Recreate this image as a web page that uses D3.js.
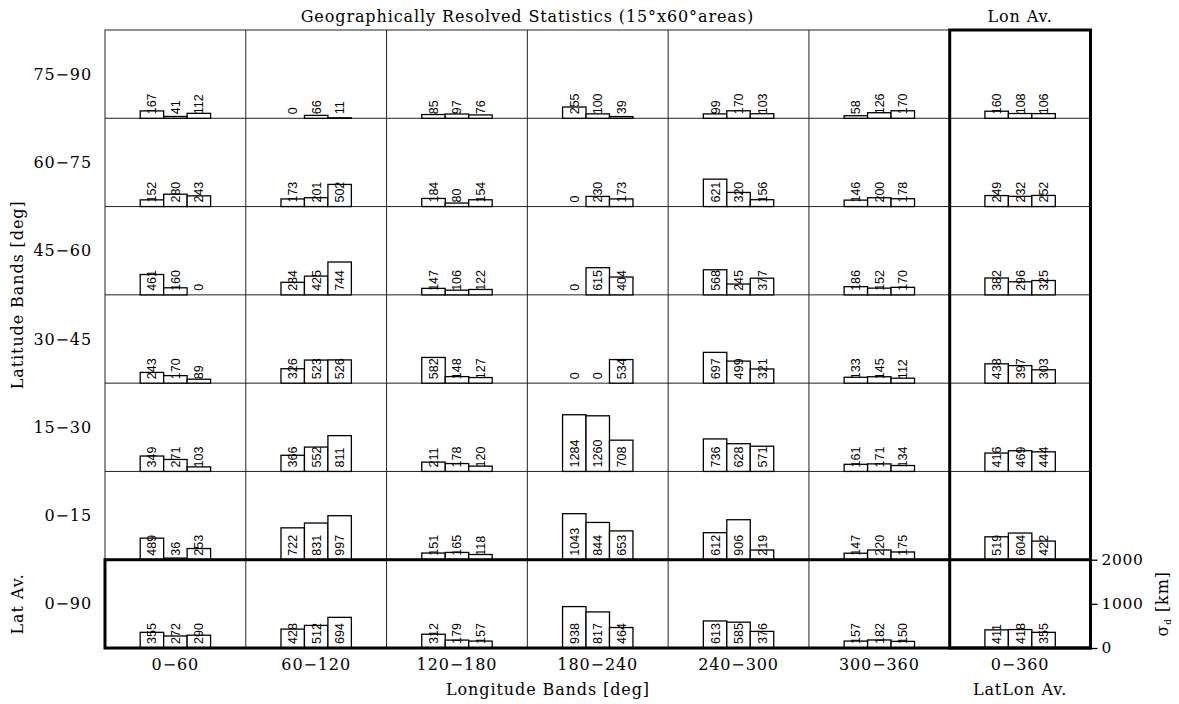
<!DOCTYPE html>
<html><head><meta charset="utf-8">
<script src="https://cdn.jsdelivr.net/npm/d3@7"></script>
<style>html,body{margin:0;padding:0;background:#fff;}</style>
</head><body>
<svg id="chart" width="1179" height="704"></svg>
<script>
// Longitude band labels (columns) and latitude band labels (rows)
const lonBands = ["0\u221260","60\u2212120","120\u2212180","180\u2212240","240\u2212300","300\u2212360","0\u2212360"];
const latBands = ["75\u221290","60\u221275","45\u221260","30\u221245","15\u221230","0\u221215","0\u221290"];
const yTicks = [0, 1000, 2000];

// sigma_d [km] values, three bars per cell, one array per latitude row
const row75_90 = [[167,41,112],[0,66,11],[85,97,76],[255,100,39],[99,170,103],[58,126,170],[160,108,106]];
const row60_75 = [[152,280,243],[173,201,502],[184,80,154],[0,230,173],[621,320,156],[146,200,178],[249,232,252]];
const row45_60 = [[461,160,0],[284,425,744],[147,106,122],[0,615,404],[568,245,377],[186,152,170],[382,296,325]];
const row30_45 = [[243,170,89],[326,523,526],[582,148,127],[0,0,534],[697,499,321],[133,145,112],[438,397,303]];
const row15_30 = [[349,271,103],[366,552,811],[211,178,120],[1284,1260,708],[736,628,571],[161,171,134],[416,469,444]];
const row0_15  = [[489,36,253],[722,831,997],[151,165,118],[1043,844,653],[612,906,219],[147,220,175],[519,604,422]];
const row0_90  = [[355,272,290],[428,512,694],[312,179,157],[938,817,464],[613,585,376],[157,182,150],[411,418,355]];
const rows = [row75_90,row60_75,row45_60,row30_45,row15_30,row0_15,row0_90];

const svg = d3.select("#chart");
const L = 105, R = 1090.5, T = 30, B = 648;
const serif = "'DejaVu Serif', 'Liberation Serif', serif";
const sans = "'Liberation Sans', Arial, sans-serif";
const FS = 16, LS = 0.9;

const x = d3.scaleBand().domain(lonBands).range([L, R]).padding(0);
const y = d3.scaleBand().domain(latBands).range([T, B]).padding(0);
const cw = x.bandwidth(), ch = y.bandwidth();
const xi = d3.scaleBand().domain([0,1,2]).range([cw*0.25, cw*0.75]).padding(0);
const v = d3.scaleLinear().domain([0, 2000]).range([ch, 0]);

function label(sel) {
  return sel.attr("font-family", serif).attr("font-size", FS).attr("letter-spacing", LS).attr("fill", "#000");
}

// thin grid
const grid = svg.append("g").attr("stroke", "#222").attr("stroke-width", 1).attr("fill", "none");
grid.append("rect").attr("x", L).attr("y", T).attr("width", R-L).attr("height", B-T);
lonBands.slice(1).forEach(d => grid.append("line").attr("x1", x(d)).attr("x2", x(d)).attr("y1", T).attr("y2", B));
latBands.slice(1).forEach(d => grid.append("line").attr("y1", y(d)).attr("y2", y(d)).attr("x1", L).attr("x2", R));

// bars
rows.forEach((row, ri) => {
  const lat = latBands[ri];
  row.forEach((vals, ci) => {
    const lon = lonBands[ci];
    const g = svg.append("g").attr("transform", `translate(${x(lon)},${y(lat)})`);
    g.selectAll("rect").data(vals).join("rect")
      .attr("x", (d,i) => xi(i)).attr("width", xi.bandwidth())
      .attr("y", d => v(d)).attr("height", d => ch - v(d))
      .attr("fill", "#fff").attr("stroke", "#000").attr("stroke-width", 1.3);
    g.selectAll("text").data(vals).join("text")
      .attr("transform", (d,i) => `translate(${xi(i)+xi.bandwidth()/2},${ch-4}) rotate(-90)`)
      .attr("dy", "0.36em")
      .attr("font-family", sans).attr("font-size", 12.5)
      .text(d => d);
  });
});

// thick borders
const thick = svg.append("g").attr("stroke", "#000").attr("stroke-width", 3).attr("fill", "none");
const lastLat = latBands[6], lastLon = lonBands[6];
thick.append("rect").attr("x", x(lastLon)).attr("y", T).attr("width", R - x(lastLon)).attr("height", B - T);
thick.append("rect").attr("x", L).attr("y", y(lastLat)).attr("width", R - L).attr("height", B - y(lastLat));

// right axis
const vAxis = d3.scaleLinear().domain([0, 2000]).range([B, y(lastLat)]);
const ax = svg.append("g").attr("transform", `translate(${R},0)`)
  .call(d3.axisRight(vAxis).tickValues(yTicks).tickSize(7).tickPadding(4).tickFormat(d3.format("d")));
ax.select(".domain").remove();
ax.selectAll("line").attr("stroke", "#000").attr("stroke-width", 1.3);
ax.selectAll("text").call(label).attr("font-size", 15.5).attr("letter-spacing", 0.6);

// column labels
svg.append("g").selectAll("text").data(lonBands).join("text")
  .attr("x", d => x(d) + cw/2).attr("y", 670)
  .attr("text-anchor", "middle").call(label).text(d => d);
// row labels
svg.append("g").selectAll("text").data(latBands).join("text")
  .attr("x", 92).attr("y", d => y(d) + ch/2).attr("dy", "0.35em")
  .attr("text-anchor", "end").call(label).text(d => d);

// titles
svg.append("text").attr("x", (L + x(lastLon))/2).attr("y", 22).attr("text-anchor", "middle")
  .call(label).text("Geographically Resolved Statistics (15\u00b0x60\u00b0areas)");
svg.append("text").attr("x", x(lastLon) + cw/2).attr("y", 22).attr("text-anchor", "middle")
  .call(label).text("Lon Av.");
svg.append("text").attr("x", 548).attr("y", 695).attr("text-anchor", "middle")
  .call(label).text("Longitude Bands [deg]");
svg.append("text").attr("x", x(lastLon) + cw/2).attr("y", 695).attr("text-anchor", "middle")
  .call(label).text("LatLon Av.");
svg.append("text").attr("transform", `translate(23,${(T + y(lastLat))/2}) rotate(-90)`).attr("text-anchor", "middle")
  .call(label).text("Latitude Bands [deg]");
svg.append("text").attr("transform", `translate(23,${y(lastLat) + ch/2}) rotate(-90)`).attr("text-anchor", "middle")
  .call(label).text("Lat Av.");
const sl = svg.append("text").attr("transform", `translate(1168,${y(lastLat) + ch/2}) rotate(-90)`).attr("text-anchor", "middle")
  .call(label);
sl.append("tspan").text("\u03c3");
sl.append("tspan").attr("dy", 3).attr("font-size", 9).text("d");
sl.append("tspan").attr("dy", -3).text(" [km]");
</script>
</body></html>
